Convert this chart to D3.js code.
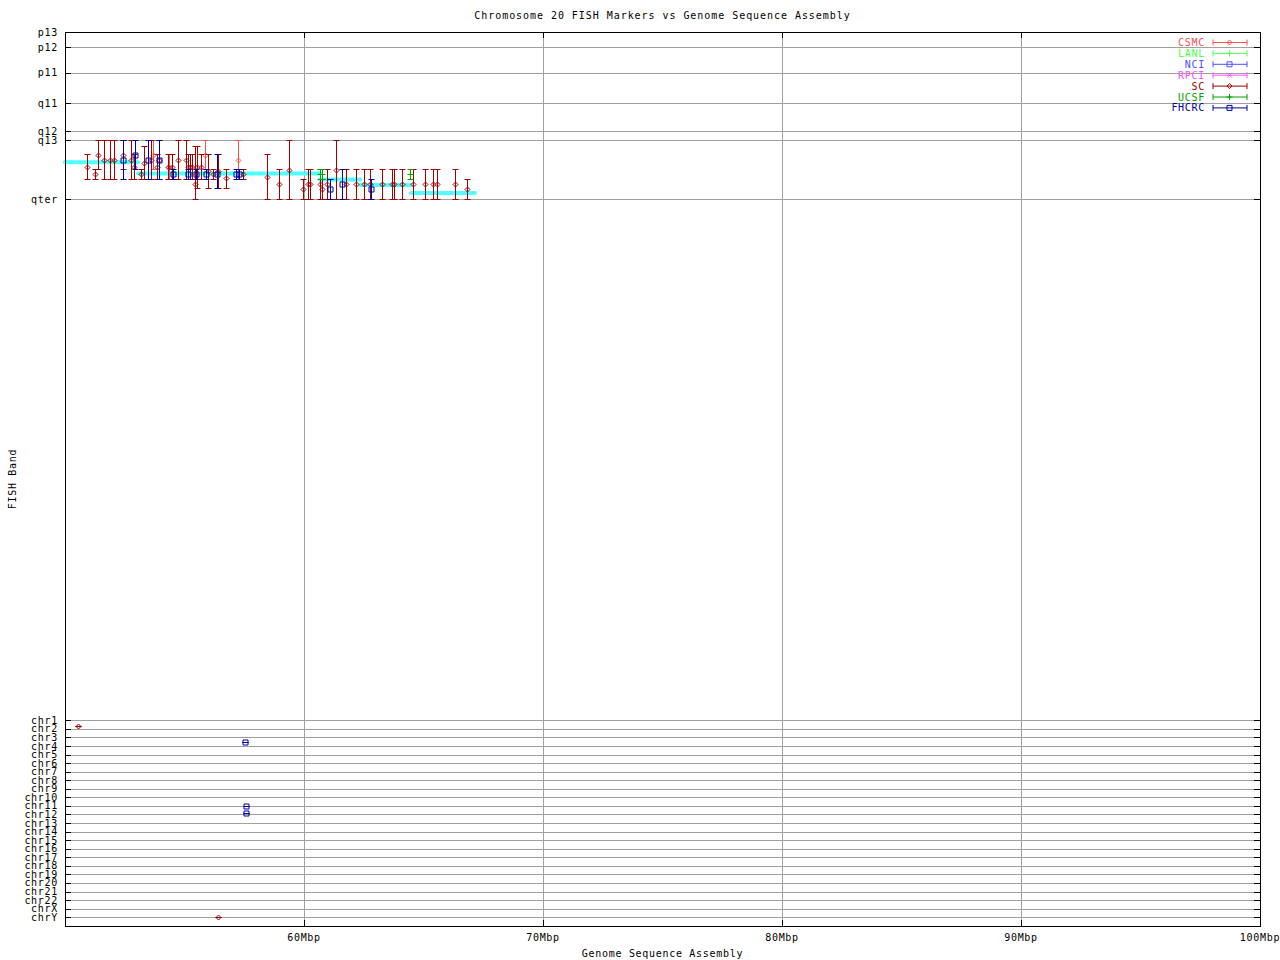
<!DOCTYPE html>
<html>
<head>
<meta charset="utf-8">
<script src="https://cdn.jsdelivr.net/npm/d3@7"></script>
<style>
  body { margin: 0; background: #fff; }
  text { font-family: "DejaVu Sans Mono", monospace; font-size: 10px; letter-spacing: 0.7px; fill: #000; }
</style>
</head>
<body>
<div id="chart_div"></div>
<script>
// x ticks (Mbp) and y ticks (band position along chr20, then other chromosomes)
const xTicks = [60, 70, 80, 90, 100]
const bandTicks = [["p13", 0], ["p12", 5.8], ["p11", 15.8], ["q11", 27.5], ["q12", 38.3], ["q13", 41.8], ["qter", 64.5]]
const chrTicks = [["chr1", 265.4], ["chr2", 268.7], ["chr3", 272.0], ["chr4", 275.3], ["chr5", 278.6], ["chr6", 281.9],
  ["chr7", 285.2], ["chr8", 288.5], ["chr9", 291.8], ["chr10", 295.1], ["chr11", 298.4], ["chr12", 301.7],
  ["chr13", 305.0], ["chr14", 308.3], ["chr15", 311.6], ["chr16", 314.9], ["chr17", 318.2], ["chr18", 321.5],
  ["chr19", 324.8], ["chr20", 328.1], ["chr21", 331.4], ["chr22", 334.7], ["chrX", 338.0], ["chrY", 341.3]]

const seriesNames = ["CSMC", "LANL", "NCI", "RPCI", "SC", "UCSF", "FHCRC"]

// markers: [assembly Mbp, band pos, band low, band high]
const csmcMarkers = [
  [53.68, 47.35, 41.8, 52.9], [54.35, 51.95, 47.1, 56.8], [55.84, 47.35, 41.8, 52.9], [57.25, 49.3, 41.8, 56.8]
]
const lanlMarkers = []
const nciMarkers = []
const rpciMarkers = []
const scMarkers = [
  [50.93, 51.95, 47.1, 56.8], [51.27, 54.85, 52.9, 56.8], [51.39, 47.35, 41.8, 52.9], [51.64, 49.3, 41.8, 56.8],
  [51.88, 49.3, 41.8, 56.8], [52.06, 49.3, 41.8, 56.8], [52.44, 47.35, 41.8, 52.9], [52.76, 49.3, 41.8, 56.8],
  [52.87, 51.95, 47.1, 56.8], [53.19, 54.85, 52.9, 56.8], [53.32, 50.45, 44.1, 56.8], [53.60, 49.3, 41.8, 56.8],
  [53.84, 51.95, 47.1, 56.8], [53.95, 49.3, 41.8, 56.8], [54.31, 51.95, 47.1, 56.8], [54.48, 51.95, 47.1, 56.8],
  [54.72, 49.3, 41.8, 56.8], [55.05, 49.3, 41.8, 56.8], [55.13, 51.95, 47.1, 56.8], [55.23, 51.95, 47.1, 56.8],
  [55.33, 51.95, 47.1, 56.8], [55.44, 58.7, 44.1, 64.5], [55.54, 52.0, 44.1, 60.0], [55.67, 51.95, 47.1, 56.8],
  [56.00, 53.5, 47.1, 60.0], [56.20, 54.85, 52.9, 56.8], [56.39, 53.5, 47.1, 60.0], [56.72, 56.45, 52.9, 60.0],
  [57.43, 54.85, 52.9, 56.8], [58.45, 55.8, 47.1, 64.5], [58.97, 58.7, 52.9, 64.5], [59.38, 53.15, 41.8, 64.5],
  [59.97, 60.65, 56.8, 64.5], [60.15, 58.7, 52.9, 64.5], [60.27, 58.7, 52.9, 64.5], [60.69, 58.7, 52.9, 64.5],
  [60.77, 60.65, 56.8, 64.5], [60.97, 58.7, 52.9, 64.5], [61.35, 53.15, 41.8, 64.5], [61.74, 58.7, 52.9, 64.5],
  [62.17, 58.7, 52.9, 64.5], [62.52, 58.7, 52.9, 64.5], [62.76, 58.7, 52.9, 64.5], [63.28, 58.7, 52.9, 64.5],
  [63.67, 58.7, 52.9, 64.5], [63.78, 58.7, 52.9, 64.5], [64.11, 58.7, 52.9, 64.5], [64.54, 58.7, 52.9, 64.5],
  [65.06, 58.7, 52.9, 64.5], [65.41, 58.7, 52.9, 64.5], [65.55, 58.7, 52.9, 64.5], [66.32, 58.7, 52.9, 64.5],
  [66.83, 60.65, 56.8, 64.5],
  [50.56, 267.7, 267.7, 267.7], [56.41, 341.3, 341.3, 341.3]
]
const ucsfMarkers = [
  [60.65, 54.85, 52.9, 56.8], [60.77, 54.85, 52.9, 56.8], [64.44, 54.85, 52.9, 56.8]
]
const fhcrcMarkers = [
  [52.44, 49.3, 41.8, 56.8], [52.94, 47.35, 41.8, 52.9], [53.49, 49.3, 41.8, 56.8], [53.95, 49.3, 41.8, 56.8],
  [54.52, 54.85, 52.9, 56.8], [55.13, 54.85, 52.9, 56.8], [55.50, 54.85, 52.9, 56.8], [55.88, 54.85, 52.9, 56.8],
  [56.37, 54.6, 47.1, 60.0], [57.15, 54.85, 52.9, 56.8], [57.27, 54.85, 52.9, 56.8], [61.10, 60.65, 56.8, 64.5],
  [61.61, 58.7, 52.9, 64.5], [62.80, 60.65, 56.8, 64.5],
  [57.54, 273.9, 273.9, 273.9], [57.59, 298.5, 298.5, 298.5], [57.59, 301.2, 301.2, 301.2]
]

// assembly band path (cyan): [from Mbp, to Mbp, band pos]
const assemblySegments = [
  [50, 53.05, 50.2], [53.05, 60.67, 54.6], [60.67, 62.34, 56.9], [62.34, 64.48, 59.0], [64.48, 67.15, 62.1]
]

const seriesData = [csmcMarkers, lanlMarkers, nciMarkers, rpciMarkers, scMarkers, ucsfMarkers, fhcrcMarkers]
const seriesColor = ["#ff5050", "#50ff50", "#5050ff", "#ff50ff", "#a00000", "#00a000", "#0000a0"]
const seriesShape = ["diamond", "plus", "square", "cross", "diamond", "plus", "square"]

const shapePath = (s) => {
  if (s === "diamond") return "M0,-2.5L2.5,0L0,2.5L-2.5,0Z"
  if (s === "square") return "M-2.5,-2.5H2.5V2.5H-2.5Z"
  if (s === "plus") return "M-3,0H3M0,-3V3"
  return "M-2.5,-2.5L2.5,2.5M-2.5,2.5L2.5,-2.5"
}

// set the dimensions and margins of the graph
const margin = { top: 32, right: 20, bottom: 34, left: 65 },
  width = 1280 - margin.left - margin.right,
  height = 960 - margin.top - margin.bottom;

const root = d3.select("#chart_div")
  .append("svg")
  .attr("width", 1280)
  .attr("height", 960)
root.append("rect").attr("width", 1280).attr("height", 960).attr("fill", "#fff")

const svg = root.append("g")
  .attr("transform", `translate(${margin.left},${margin.top})`);

const x = d3.scaleLinear().domain([50, 100]).range([0, width])
const y = d3.scaleLinear().domain([0, 344.7]).range([0, height])

const yTicks = bandTicks.concat(chrTicks)

// grid
svg.append("g").selectAll("line").data(yTicks).join("line")
  .attr("x1", 0).attr("x2", width)
  .attr("y1", d => Math.round(y(d[1])) + 0.5).attr("y2", d => Math.round(y(d[1])) + 0.5)
  .attr("stroke", "#a0a0a0")
svg.append("g").selectAll("line").data(xTicks).join("line")
  .attr("x1", d => Math.round(x(d)) + 0.5).attr("x2", d => Math.round(x(d)) + 0.5)
  .attr("y1", 0).attr("y2", height)
  .attr("stroke", "#a0a0a0")

// tick marks (inward, mirrored)
svg.append("g").selectAll("path").data(yTicks).join("path")
  .attr("d", d => { const yy = Math.round(y(d[1])) + 0.5; return `M0,${yy}H6M${width},${yy}H${width - 6}` })
  .attr("stroke", "#000")
svg.append("g").selectAll("path").data(xTicks).join("path")
  .attr("d", d => { const xx = Math.round(x(d)) + 0.5; return `M${xx},${height}V${height - 6}M${xx},0V6` })
  .attr("stroke", "#000")

// tick labels
svg.append("g").selectAll("text").data(yTicks).join("text")
  .attr("x", -7).attr("y", d => y(d[1]))
  .attr("dy", "0.35em").attr("text-anchor", "end")
  .text(d => d[0])
svg.append("g").selectAll("text").data(xTicks).join("text")
  .attr("x", d => x(d)).attr("y", height + 15)
  .attr("text-anchor", "middle")
  .text(d => d + "Mbp")

// assembly path
svg.append("g").selectAll("line").data(assemblySegments).join("line")
  .attr("x1", d => x(d[0])).attr("x2", d => x(d[1]))
  .attr("y1", d => y(d[2])).attr("y2", d => y(d[2]))
  .attr("stroke", "#50ffff").attr("stroke-width", 4).attr("stroke-linecap", "round")

// error bars + points
seriesData.forEach((data, i) => {
  const g = svg.append("g").attr("stroke", seriesColor[i]).attr("fill", "none")
  g.selectAll("path.bar").data(data).join("path").attr("class", "bar")
    .attr("d", d => {
      const xx = Math.round(x(d[0])) + 0.5, lo = Math.round(y(d[2])) + 0.5, hi = Math.round(y(d[3])) + 0.5
      return `M${xx},${lo}V${hi}M${xx - 3},${lo}H${xx + 3}M${xx - 3},${hi}H${xx + 3}`
    })
  g.selectAll("path.pt").data(data).join("path").attr("class", "pt")
    .attr("transform", d => `translate(${Math.round(x(d[0])) + 0.5},${Math.round(y(d[1])) + 0.5})`)
    .attr("d", shapePath(seriesShape[i]))
})

// border
svg.append("rect").attr("x", 0.5).attr("y", 0.5).attr("width", width).attr("height", height)
  .attr("fill", "none").attr("stroke", "#000")

// legend
const legend = svg.append("g").selectAll("g").data(seriesNames).join("g")
  .attr("transform", (d, i) => `translate(${width - 55},${10.5 + i * 10.9})`)
legend.append("text").attr("x", 0).attr("dy", "0.35em").attr("text-anchor", "end")
  .style("fill", (d, i) => seriesColor[i]).text(d => d)
legend.append("path")
  .attr("d", "M8,0H42M8,-3V3M42,-3V3")
  .attr("stroke", (d, i) => seriesColor[i]).attr("fill", "none")
legend.append("path")
  .attr("transform", "translate(24.5,0)")
  .attr("d", (d, i) => shapePath(seriesShape[i]))
  .attr("stroke", (d, i) => seriesColor[i]).attr("fill", "none")

// titles
root.append("text").attr("x", margin.left + width / 2).attr("y", 19)
  .attr("text-anchor", "middle").style("letter-spacing", "0.95px")
  .text("Chromosome 20 FISH Markers vs Genome Sequence Assembly")
root.append("text").attr("x", margin.left + width / 2).attr("y", 957)
  .attr("text-anchor", "middle").text("Genome Sequence Assembly")
root.append("text").attr("transform", `translate(12,${margin.top + height / 2}) rotate(-90)`)
  .attr("dy", "0.35em").attr("text-anchor", "middle").text("FISH Band")
</script>
</body>
</html>
